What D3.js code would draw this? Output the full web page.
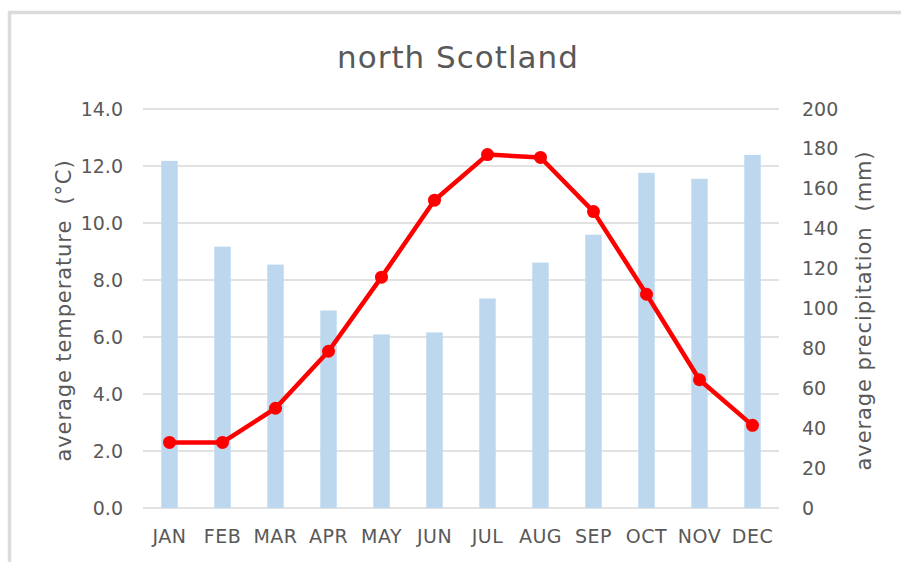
<!DOCTYPE html>
<html>
  <head>
    <meta charset="utf-8"/>
    <title>north Scotland</title>
    <script src="https://d3js.org/d3.v7.min.js"></script>
    <style>
      body { margin: 0; background: #fff; }
      text { font-family: 'DejaVu Sans', sans-serif; fill: #595959; }
    </style>
  </head>
  <body>
    <div id="chart"></div>
  <script>
  // data
  var months = ["JAN","FEB","MAR","APR","MAY","JUN","JUL","AUG","SEP","OCT","NOV","DEC"];
  var temperature = [2.3, 2.3, 3.5, 5.5, 8.1, 10.8, 12.4, 12.3, 10.4, 7.5, 4.5, 2.9];
  var precipitation = [174, 131, 122, 99, 87, 88, 105, 123, 137, 168, 165, 177];
  var tempTicks = [0, 2, 4, 6, 8, 10, 12, 14];
  var precTicks = [0, 20, 40, 60, 80, 100, 120, 140, 160, 180, 200];

  var width = 901, height = 562;
  var plot = {left: 143, right: 779, top: 109, bottom: 508};

  var svg = d3.select("#chart").append("svg")
      .attr("width", width)
      .attr("height", height);

  // frame (only top and left edges visible)
  svg.append("path")
      .attr("d", "M9.5," + height + "V12.5H" + width)
      .attr("fill", "none")
      .attr("stroke", "#dcdcdc")
      .attr("stroke-width", 3.5);

  var x = d3.scaleBand()
      .domain(months)
      .range([plot.left, plot.right])
      .paddingInner(0.69)
      .paddingOuter(0.345);

  var yT = d3.scaleLinear().domain([0, 14]).range([plot.bottom, plot.top]);
  var yP = d3.scaleLinear().domain([0, 200]).range([plot.bottom, plot.top]);

  // gridlines
  svg.append("g").selectAll("line")
      .data(tempTicks)
      .enter().append("line")
      .attr("x1", plot.left).attr("x2", plot.right)
      .attr("y1", function(d) { return yT(d); })
      .attr("y2", function(d) { return yT(d); })
      .attr("stroke", "#d9d9d9")
      .attr("stroke-width", 1.5);

  // precipitation bars
  svg.append("g").selectAll("rect")
      .data(precipitation)
      .enter().append("rect")
      .attr("x", function(d, i) { return x(months[i]); })
      .attr("width", x.bandwidth())
      .attr("y", function(d) { return yP(d); })
      .attr("height", function(d) { return yP(0) - yP(d); })
      .attr("fill", "#bdd7ee");

  // left axis
  var leftAxis = svg.append("g")
      .attr("transform", "translate(" + (plot.left - 20) + ",0)")
      .call(d3.axisLeft(yT).tickValues(tempTicks).tickFormat(d3.format(".1f")).tickSize(0).tickPadding(0));
  leftAxis.select(".domain").remove();
  leftAxis.selectAll("text").style("font-size", "19px").attr("fill", "#595959");

  // right axis
  var rightAxis = svg.append("g")
      .attr("transform", "translate(" + (plot.right + 23) + ",0)")
      .call(d3.axisRight(yP).tickValues(precTicks).tickSize(0).tickPadding(0));
  rightAxis.select(".domain").remove();
  rightAxis.selectAll("text").style("font-size", "19px").attr("fill", "#595959");

  // bottom axis
  var bottomAxis = svg.append("g")
      .attr("transform", "translate(0," + plot.bottom + ")")
      .call(d3.axisBottom(x).tickSize(0).tickPadding(22));
  bottomAxis.select(".domain").remove();
  bottomAxis.selectAll("text").style("font-size", "19px").style("letter-spacing", "0.5px").attr("fill", "#595959");

  // temperature line
  var line = d3.line()
      .x(function(d, i) { return x(months[i]) + x.bandwidth() / 2; })
      .y(function(d) { return yT(d); });

  svg.append("path")
      .datum(temperature)
      .attr("d", line)
      .attr("fill", "none")
      .attr("stroke", "#ff0000")
      .attr("stroke-width", 4.5)
      .attr("stroke-linejoin", "round");

  svg.append("g").selectAll("circle")
      .data(temperature)
      .enter().append("circle")
      .attr("cx", function(d, i) { return x(months[i]) + x.bandwidth() / 2; })
      .attr("cy", function(d) { return yT(d); })
      .attr("r", 6.5)
      .attr("fill", "#ff0000");

  // title
  svg.append("text")
      .attr("x", 458)
      .attr("y", 68)
      .attr("text-anchor", "middle")
      .style("font-size", "31px")
      .style("letter-spacing", "1px")
      .text("north Scotland");

  // axis titles
  svg.append("text")
      .attr("transform", "translate(71," + ((plot.top + plot.bottom) / 2 + 2) + ") rotate(-90)")
      .attr("text-anchor", "middle")
      .style("white-space", "pre")
      .style("font-size", "21px")
      .style("letter-spacing", "0.9px")
      .text("average temperature  (\u00b0C)");

  svg.append("text")
      .attr("transform", "translate(871," + ((plot.top + plot.bottom) / 2 + 2) + ") rotate(-90)")
      .attr("text-anchor", "middle")
      .style("white-space", "pre")
      .style("font-size", "21px")
      .style("letter-spacing", "0.9px")
      .text("average precipitation  (mm)");
  </script>
  </body>
</html>
